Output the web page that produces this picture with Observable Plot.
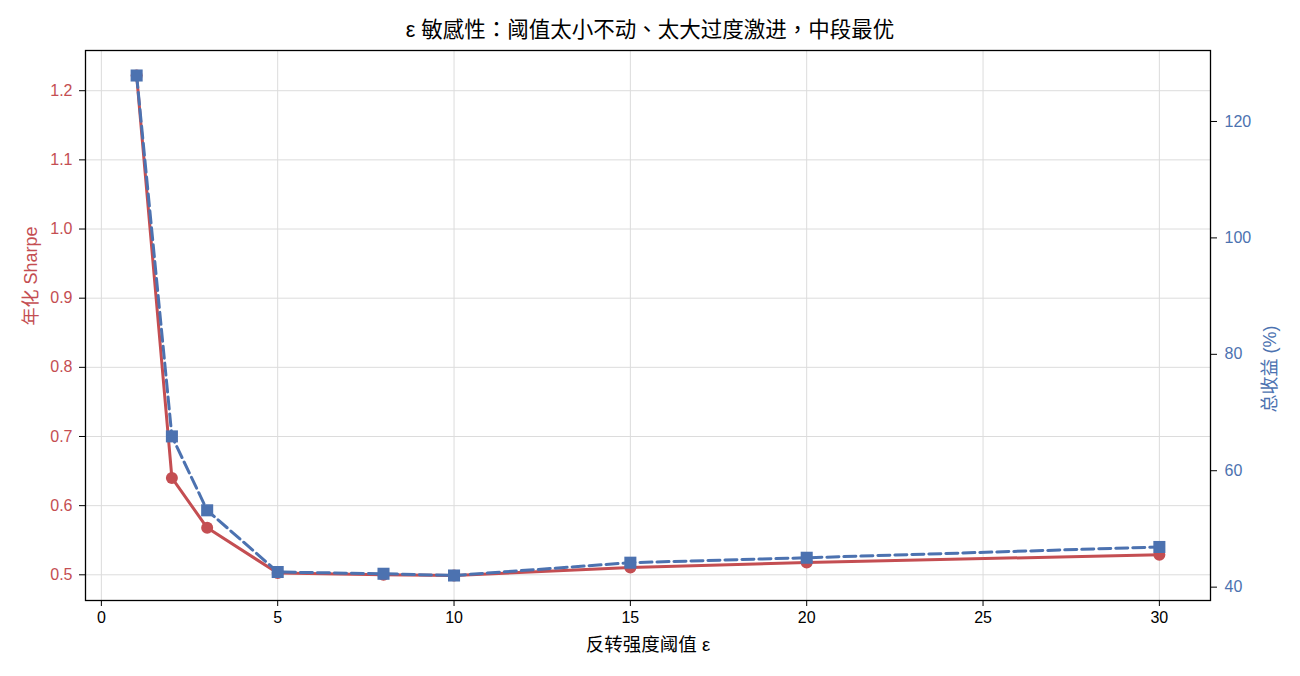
<!DOCTYPE html>
<html>
<head>
<meta charset="utf-8">
<script src="https://cdn.jsdelivr.net/npm/d3@7"></script>
<script src="https://cdn.jsdelivr.net/npm/@observablehq/plot@0.6"></script>
<style>
  body { margin: 0; background: #fff; font-family: "Liberation Sans", "Noto Sans CJK SC", sans-serif; }
  #wrap { position: relative; width: 1300px; height: 676px; }
  #title { position: absolute; top: 16px; left: 0; width: 1300px; text-align: center; font-size: 21.5px; color: #000; line-height: 28px; font-family: "Liberation Sans", "Noto Sans CJK TC", sans-serif; }
</style>
</head>
<body>
<div id="wrap">
  <div id="title">ε 敏感性：阈值太小不动、太大过度激进，中段最优</div>
  <div id="chart"></div>
</div>
<script>
const epsilon = [1, 2, 3, 5, 8, 10, 15, 20, 30];
const sharpe = [1.222, 0.640, 0.568, 0.5025, 0.500, 0.499, 0.5106, 0.5178, 0.529];
const totalReturn = [127.9, 65.9, 53.2, 42.6, 42.3, 42.0, 44.2, 45.05, 46.9];
const xTicks = [0, 5, 10, 15, 20, 25, 30];
const sharpeTicks = [0.5, 0.6, 0.7, 0.8, 0.9, 1.0, 1.1, 1.2];
const returnTicks = [40, 60, 80, 100, 120];

const RED = "#c44e52";
const BLUE = "#4c72b0";

function padded(arr) {
  const lo = d3.min(arr), hi = d3.max(arr), m = (hi - lo) * 0.05;
  return [lo - m, hi + m];
}
const xD = padded(epsilon);
const yD = padded(sharpe);
const rD = padded(totalReturn);
const toS = r => yD[0] + (r - rD[0]) / (rD[1] - rD[0]) * (yD[1] - yD[0]);
const fromS = s => rD[0] + (s - yD[0]) / (yD[1] - yD[0]) * (rD[1] - rD[0]);

const rows = epsilon.map((e, i) => ({eps: e, sharpe: sharpe[i], ret: totalReturn[i], retS: toS(totalReturn[i])}));

const chart = Plot.plot({
  width: 1300,
  height: 676,
  marginLeft: 85,
  marginRight: 90,
  marginTop: 50,
  marginBottom: 76,
  style: {fontFamily: '"Liberation Sans", "Noto Sans CJK SC", sans-serif', fontSize: "16px", background: "#fff", color: "#000"},
  x: {domain: xD},
  y: {domain: yD},
  marks: [
    Plot.gridX(xTicks, {stroke: "#dcdcdc", strokeOpacity: 1}),
    Plot.gridY(sharpeTicks, {stroke: "#dcdcdc", strokeOpacity: 1}),
    Plot.axisX(xTicks, {tickSize: 6, tickPadding: 5, stroke: "#000", fill: "#000", label: null}),
    Plot.axisY(sharpeTicks, {anchor: "left", tickSize: 6, tickPadding: 7, stroke: "#000", fill: RED, tickFormat: d3.format(".1f"), label: null}),
    Plot.axisY(returnTicks.map(toS), {anchor: "right", tickSize: 6, tickPadding: 8, stroke: "#000", fill: BLUE, tickFormat: s => String(Math.round(fromS(s))), label: null}),
    Plot.line(rows, {x: "eps", y: "sharpe", stroke: RED, strokeWidth: 3}),
    Plot.dot(rows, {x: "eps", y: "sharpe", fill: RED, r: 6, symbol: "circle"}),
    Plot.line(rows, {x: "eps", y: "retS", stroke: BLUE, strokeWidth: 3, strokeDasharray: "12,5"}),
    Plot.dot(rows, {x: "eps", y: "retS", fill: BLUE, r: 6.8, symbol: "square"}),
    Plot.frame({stroke: "#000", strokeWidth: 1.3}),
    Plot.text(["年化 Sharpe"], {frameAnchor: "left", dx: -54, rotate: -90, fill: RED, fontSize: 18}),
    Plot.text(["总收益 (%)"], {frameAnchor: "right", dx: 60, rotate: -90, fill: BLUE, fontSize: 18}),
    Plot.text(["反转强度阈值 ε"], {frameAnchor: "bottom", dy: 50, fill: "#000", fontSize: 18.5})
  ]
});
document.getElementById("chart").appendChild(chart);
</script>
</body>
</html>
